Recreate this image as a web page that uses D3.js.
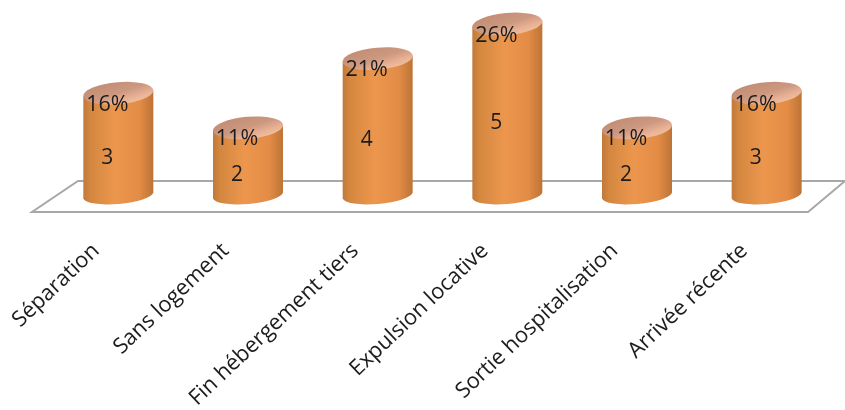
<!DOCTYPE html>
<html><head><meta charset="utf-8">
<script src="https://cdn.jsdelivr.net/npm/d3@7"></script>
<style>html,body{margin:0;padding:0;background:#fff}svg{display:block}text{font-family:"Open Sans",sans-serif;fill:#1c1c1c}</style>
</head><body><div id="c"></div>
<script>
const categories=["Séparation","Sans logement","Fin hébergement tiers","Expulsion locative","Sortie hospitalisation","Arrivée récente"];
const counts=[3,2,4,5,2,3];
const percents=["16%","11%","21%","26%","11%","16%"];
const W=845,H=410;
const x=d3.scaleBand().domain(categories).range([53.5,831.5]).paddingInner(0).paddingOuter(0);
const y=d3.scaleLinear().domain([0,5]).range([197,24]);
const svg=d3.select("#c").append("svg").attr("width",W).attr("height",H);
const defs=svg.append("defs");
const f=defs.append("filter").attr("id","soft");f.append("feGaussianBlur").attr("stdDeviation",0.6);
const g1=defs.append("linearGradient").attr("id","body");
[[0,"#c07a3c"],[.1,"#d4873f"],[.45,"#ec964e"],[.8,"#e38c46"],[1,"#bd7436"]].forEach(s=>g1.append("stop").attr("offset",s[0]).attr("stop-color",s[1]));
const g2=defs.append("linearGradient").attr("id","top").attr("x1",0).attr("y1",0).attr("x2",.75).attr("y2",1);
[[0,"#c08a70"],[.55,"#cc9880"],[.8,"#e8b094"],[1,"#f0c0a0"]].forEach(s=>g2.append("stop").attr("offset",s[0]).attr("stop-color",s[1]));
const rx=35.2,ry=11,dy=3,by=1.5,bry=9;
const root=svg.append("g").attr("filter","url(#soft)");
root.append("path").attr("fill","none").attr("stroke","#a8a8a8").attr("stroke-width",2)
 .attr("d",`M${W},181H78L32,212H808L${W+0},181`);
const bar=root.selectAll("g.bar").data(categories).join("g").attr("class","bar");
const cx=d=>x(d)+x.bandwidth()/2;
bar.append("path").attr("fill","url(#body)").attr("d",(d,i)=>{
 const c=cx(d),t=y(counts[i]),b=y(0)-by;
 return `M${c-35},${t+dy}L${c-35},${b+dy}A${rx},${bry} -5 0 0 ${c+35},${b-dy}L${c+35},${t-dy}Z`;});
bar.append("ellipse").attr("fill","url(#top)")
 .attr("transform",(d,i)=>`translate(${cx(d)},${y(counts[i])}) rotate(-5)`).attr("rx",rx).attr("ry",ry);
bar.append("text").attr("text-anchor","middle").attr("font-size",21.5)
 .attr("x",d=>cx(d)-11).attr("y",(d,i)=>y(counts[i])+17.5).text((d,i)=>percents[i]);
bar.append("text").attr("text-anchor","middle").attr("font-size",21)
 .attr("x",d=>cx(d)-11).attr("y",(d,i)=>(y(counts[i])+y(0))/2+18.5).text((d,i)=>counts[i]);
root.selectAll("text.cat").data(categories).join("text").attr("class","cat")
 .attr("text-anchor","end").attr("font-size",21.8)
 .attr("transform",d=>`translate(${cx(d)-18},${252}) rotate(-43.5)`).text(d=>d);
</script></body></html>
